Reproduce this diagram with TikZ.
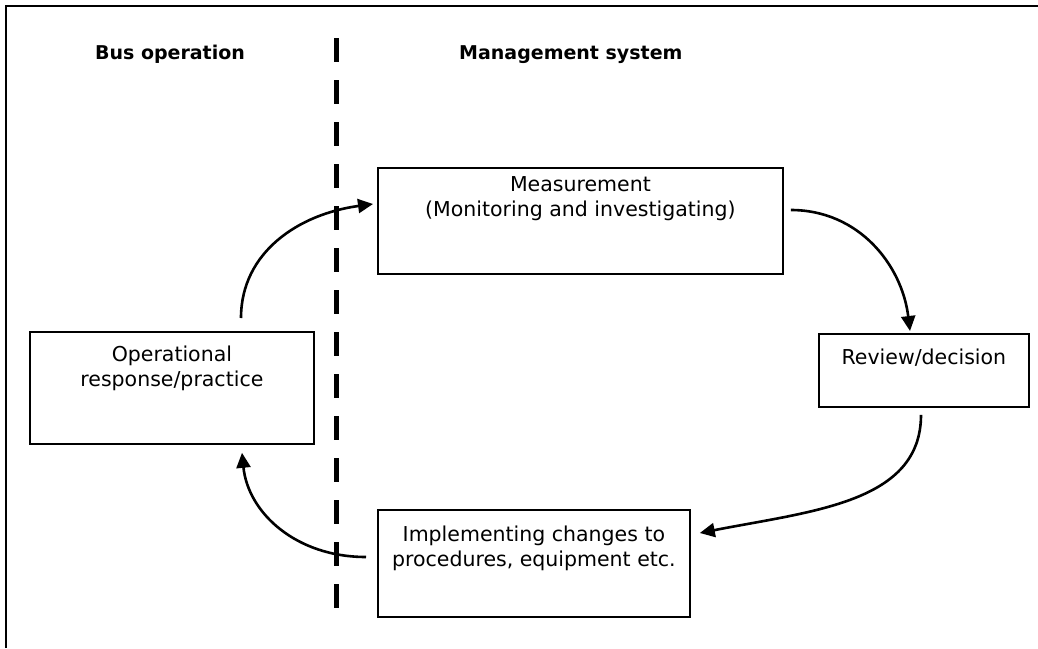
\documentclass[tikz,border=0pt]{standalone}
\usepackage{fontspec}
\setmainfont{DejaVu Sans}
\usetikzlibrary{arrows.meta,calc}
\begin{document}
\begin{tikzpicture}[x=1pt,y=-1pt,
  box/.style={draw, line width=1.8pt, rectangle, inner sep=0pt, anchor=north west},
  boxtext/.style={anchor=north, align=center, inner sep=0pt,
    font=\fontsize{20.5}{25}\selectfont},
  head/.style={anchor=base, inner sep=0pt, font=\bfseries\fontsize{19}{23}\selectfont},
  flow/.style={line width=2.6pt, -{Triangle[length=15pt,width=14pt]}},
  divider/.style={line width=5pt, dash pattern=on 24pt off 18pt}]
\useasboundingbox (0,0) rectangle (1038,648);

% open frame: left and top edges only
\coordinate (fbl) at (6,648);
\coordinate (ftl) at (6,6);
\coordinate (ftr) at (1038,6);
\draw[line width=2.6pt] (fbl) -- (ftl) -- (ftr);

% column headings
\node[head] (hbus) at (170,59) {Bus operation};
\node[head, anchor=base west] (hman) at (459,59) {Management system};

% dividing line between the two columns
\coordinate (dtop) at (336,38);
\coordinate (dbot) at (336,622);
\draw[divider] (dtop) -- (dbot);

% boxes
\node[box, minimum width=405pt, minimum height=106pt] (meas) at (377,167) {};
\node[box, minimum width=284pt, minimum height=112pt] (op) at (29,331) {};
\node[box, minimum width=210pt, minimum height=73pt] (rev) at (818,333) {};
\node[box, minimum width=312pt, minimum height=107pt] (impl) at (377,509) {};

% box texts
\node[boxtext] (meas-t) at ([yshift=-9pt]meas.north) {Measurement\\(Monitoring and investigating)};
\node[boxtext] (op-t) at ([yshift=-15pt]op.north) {Operational\\response/practice};
\node[boxtext] (rev-t) at ([yshift=-16pt]rev.north) {Review/decision};
\node[boxtext] (impl-t) at ([yshift=-17pt]impl.north) {Implementing changes to\\procedures, equipment etc.};

% cycle of curved arrows (quarter-ellipse arcs)
\draw[flow] ([xshift=212pt,yshift=13pt]op.north west)
  .. controls +(0,-66) and +(-74,10) ..
  ([xshift=-4pt,yshift=-37pt]meas.north west);
\draw[flow] ([xshift=7pt,yshift=-43pt]meas.north east)
  .. controls +(68,0) and +(-8,-66) ..
  ([xshift=92pt,yshift=2pt]rev.north west);
\draw[flow] ([xshift=103pt,yshift=-7pt]rev.south west)
  .. controls +(0,88) and +(112,-22) ..
  ([xshift=9pt,yshift=-24pt]impl.north east);
\draw[flow] ([xshift=-11pt,yshift=-48pt]impl.north west)
  .. controls +(-70,0) and +(6,60) ..
  ([xshift=213pt,yshift=-8pt]op.south west);
\end{tikzpicture}
\end{document}
